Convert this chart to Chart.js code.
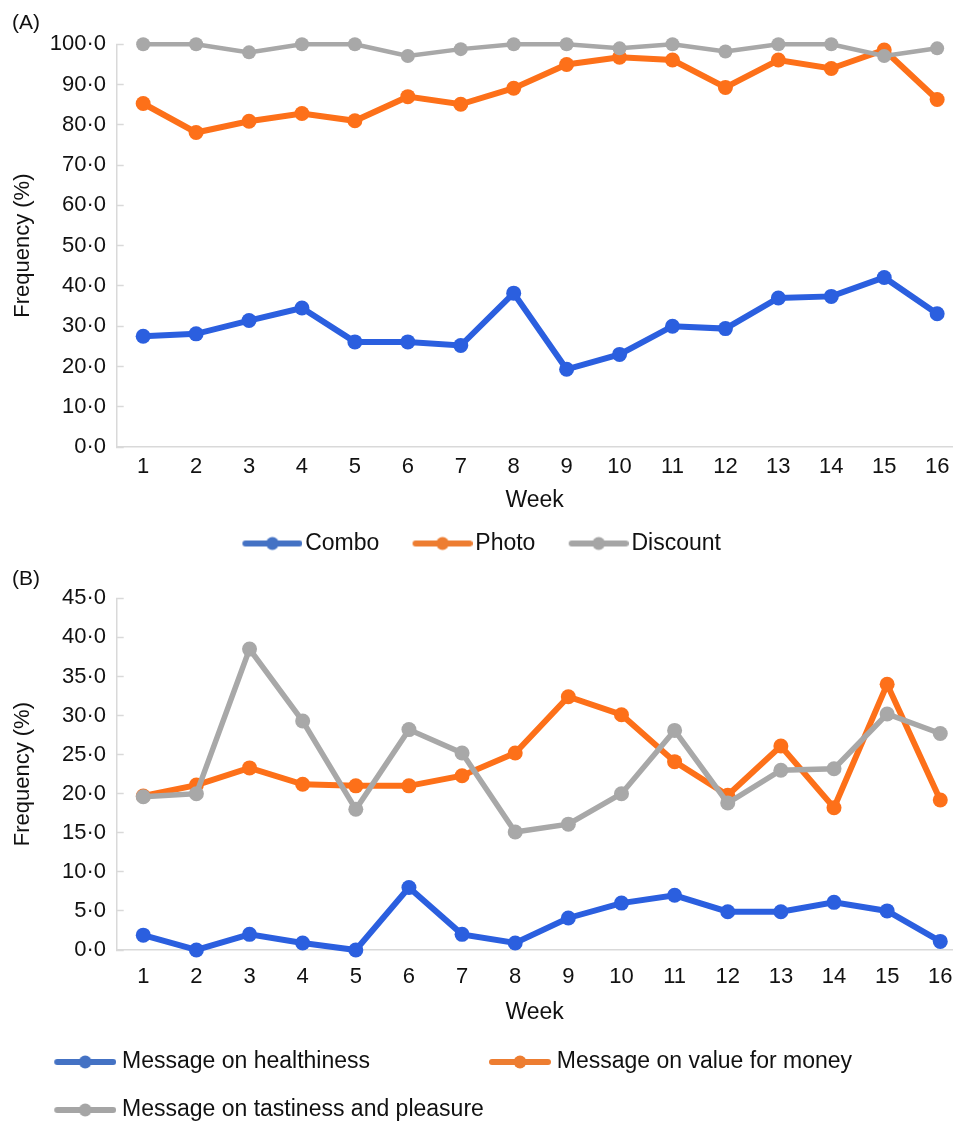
<!DOCTYPE html>
<html>
<head>
<meta charset="utf-8">
<script src="https://cdn.jsdelivr.net/npm/chart.js@4/dist/chart.umd.min.js"></script>
<style>
  html, body { margin: 0; padding: 0; background: #ffffff; overflow: hidden; }
  .box { position: relative; width: 960px; }
  #boxA { height: 565px; }
  #boxB { height: 560px; }
</style>
</head>
<body>
<div class="box" id="boxA"><canvas id="chartA"></canvas></div>
<div class="box" id="boxB"><canvas id="chartB"></canvas></div>
<script>
// ---- data ----
const weeks = [1, 2, 3, 4, 5, 6, 7, 8, 9, 10, 11, 12, 13, 14, 15, 16];

const seriesNamesA = ['Combo', 'Photo', 'Discount'];
const comboA    = [27.5, 28.1, 31.4, 34.5, 26.1, 26.1, 25.2, 38.2, 19.3, 23.0, 30.0, 29.4, 37.0, 37.4, 42.1, 33.1];
const photoA    = [85.3, 78.1, 80.9, 82.8, 81.0, 87.0, 85.1, 89.1, 95.0, 96.8, 96.1, 89.3, 96.1, 94.0, 98.6, 86.3];
const discountA = [100, 100, 98.0, 100, 100, 97.1, 98.8, 100, 100, 99.0, 100, 98.2, 100, 100, 97.1, 99.0];

const seriesNamesB = ['Message on healthiness', 'Message on value for money', 'Message on tastiness and pleasure'];
const healthB = [1.9, 0, 2.0, 0.9, 0, 8.0, 2.0, 0.9, 4.1, 6.0, 7.0, 4.9, 4.9, 6.1, 5.0, 1.1];
const valueB  = [19.7, 21.1, 23.3, 21.2, 21.0, 21.0, 22.3, 25.2, 32.4, 30.1, 24.1, 19.8, 26.1, 18.2, 34.0, 19.2];
const tasteB  = [19.6, 20.0, 38.5, 29.3, 18.0, 28.2, 25.2, 15.1, 16.1, 20.0, 28.1, 18.8, 23.0, 23.2, 30.2, 27.7];

const yTicksA = { min: 0, max: 100, step: 10 };
const yTicksB = { min: 0, max: 45, step: 5 };

// ---- styling ----
const FONT = '"Liberation Sans", Arial, Helvetica, sans-serif';
Chart.defaults.font.family = FONT;
Chart.defaults.color = '#111111';

const lineColors = ['#2b5fdf', '#fd7019', '#a8a8a8'];
const legendColors = ['#4472c4', '#ed7d31', '#a5a5a5'];
const axisColor = '#d9d9d9';

function legendImg(color, lineLen, w) {
  const c = document.createElement('canvas');
  c.width = w; c.height = 16;
  const g = c.getContext('2d');
  g.strokeStyle = color; g.lineWidth = 6; g.lineCap = 'round';
  g.beginPath(); g.moveTo(w - lineLen + 3, 8); g.lineTo(w - 3, 8); g.stroke();
  g.fillStyle = color;
  g.beginPath(); g.arc(w - lineLen / 2, 8, 6.5, 0, Math.PI * 2); g.fill();
  return c;
}

const fmtY = v => v.toFixed(1).replace('.', '\u00b7');
const nbsp = n => '\u00a0'.repeat(n);

function toPoints(arr) { return arr.map((v, i) => ({ x: weeks[i], y: v })); }

function makeDataset(label, arr, color, width, radius, order) {
  return {
    label, data: toPoints(arr), borderColor: color, backgroundColor: color,
    pointBackgroundColor: color, pointBorderColor: color, pointBorderWidth: 0,
    pointRadius: radius, borderWidth: width, tension: 0, fill: false, clip: false, order
  };
}

function legendLabels(imgs, padIndex, padCount) {
  return chart => Chart.defaults.plugins.legend.labels.generateLabels(chart)
    .sort((a, b) => a.datasetIndex - b.datasetIndex)
    .map(it => ({
      ...it,
      pointStyle: imgs[it.datasetIndex],
      text: it.text + (it.datasetIndex === padIndex ? nbsp(padCount) : '')
    }));
}

function xScale(max, tickLen, titlePad) {
  return {
    type: 'linear', min: 0.5, max: max,
    afterBuildTicks: s => { s.ticks = weeks.map(v => ({ value: v })); },
    ticks: { padding: 0, maxRotation: 0, autoSkip: false, font: { size: 22 }, color: '#111111',
             callback: v => (weeks.includes(v) ? String(v) : '') },
    grid: { display: true, drawOnChartArea: false, drawTicks: true, tickLength: tickLen, tickColor: 'rgba(0,0,0,0)' },
    border: { display: true, color: axisColor, width: 1.5 },
    title: { display: true, text: 'Week', font: { size: 23 }, color: '#111111', padding: titlePad }
  };
}

function yScale(t) {
  return {
    type: 'linear', min: t.min, max: t.max,
    ticks: { stepSize: t.step, padding: 17.7, font: { size: 22 }, color: '#111111', callback: v => fmtY(v) },
    grid: { display: true, drawOnChartArea: false, drawTicks: true, tickLength: -7, tickColor: axisColor, tickWidth: 1.5 },
    border: { display: true, color: axisColor, width: 1.5 },
    title: { display: true, text: 'Frequency (%)', font: { size: 22 }, color: '#111111', padding: { top: -2, bottom: 0 } },
    afterFit: s => { s.width = 104.7; }
  };
}

// ---- Chart A ----
const imgsA = legendColors.map(c => legendImg(c, 60, 92));
new Chart(document.getElementById('chartA'), {
  type: 'line',
  data: {
    datasets: [
      makeDataset(seriesNamesA[0], comboA, lineColors[0], 6, 7.5, 2),
      makeDataset(seriesNamesA[1], photoA, lineColors[1], 6, 7.5, 1),
      makeDataset(seriesNamesA[2], discountA, lineColors[2], 4.5, 7, 0)
    ]
  },
  options: {
    responsive: true, maintainAspectRatio: false, animation: false,
    layout: { padding: { left: 12, right: 0, top: 0, bottom: 0 } },
    plugins: {
      title: { display: true, text: '(A)', align: 'start', font: { size: 21, weight: 'normal' }, color: '#111111',
               padding: { top: 10.9, bottom: 8.2 } },
      tooltip: { enabled: false },
      legend: {
        position: 'bottom', align: 'center',
        labels: {
          usePointStyle: true, pointStyleWidth: 74.5, padding: 10, font: { size: 23 }, color: '#111111',
          generateLabels: legendLabels(imgsA, 2, 5)
        }
      }
    },
    scales: {
      x: xScale(16.29, 7, { top: 6.3, bottom: 7.7 }),
      y: yScale(yTicksA)
    }
  }
});

// ---- Chart B ----
const imgsB = legendColors.map(c => legendImg(c, 62, 85));
new Chart(document.getElementById('chartB'), {
  type: 'line',
  data: {
    datasets: [
      makeDataset(seriesNamesB[0], healthB, lineColors[0], 6, 7.5, 2),
      makeDataset(seriesNamesB[1], valueB, lineColors[1], 6, 7.5, 1),
      makeDataset(seriesNamesB[2], tasteB, lineColors[2], 5.5, 7.5, 0)
    ]
  },
  options: {
    responsive: true, maintainAspectRatio: false, animation: false,
    layout: { padding: { left: 12, right: 0, top: 0, bottom: 0 } },
    plugins: {
      title: { display: true, text: '(B)', align: 'start', font: { size: 21, weight: 'normal' }, color: '#111111',
               padding: { top: 1.4, bottom: 6.7 } },
      tooltip: { enabled: false },
      legend: {
        position: 'bottom', align: 'start', maxHeight: 99.5,
        labels: {
          usePointStyle: true, pointStyleWidth: 73.5, padding: 25, font: { size: 23 }, color: '#111111',
          generateLabels: legendLabels(imgsB, 0, 12)
        }
      }
    },
    scales: {
      x: xScale(16.23, 14, { top: 8.8, bottom: -1.3 }),
      y: yScale(yTicksB)
    }
  }
});
</script>
</body>
</html>
